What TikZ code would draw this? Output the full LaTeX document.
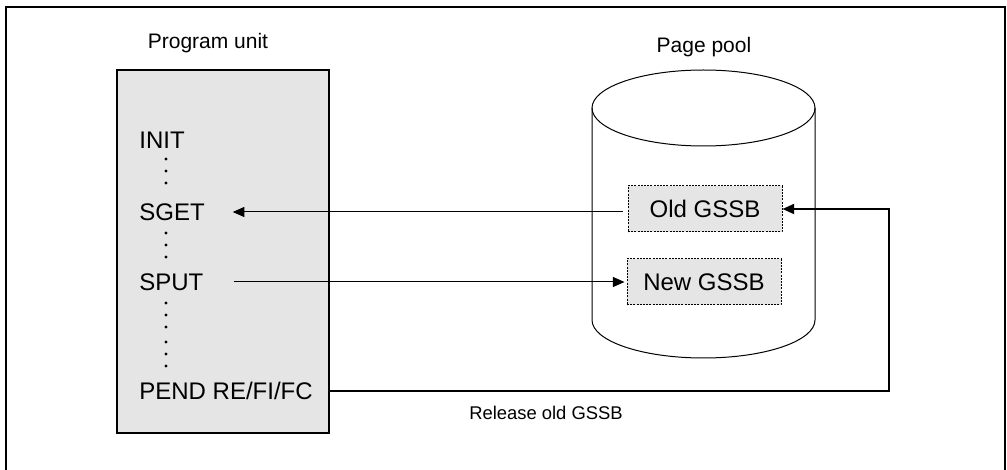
\documentclass[tikz,border=0pt]{standalone}
\usepackage{fontspec}
\setmainfont{Liberation Sans}
\usetikzlibrary{arrows.meta}
\definecolor{boxgray}{RGB}{229,229,229}

\begin{document}
\begin{tikzpicture}[x=0.5pt,y=-0.5pt,
    every node/.style={font=\fontsize{12}{14}\selectfont},
    stmt/.style={anchor=west, inner sep=0pt, text height=8.6pt, text depth=0pt},
    gssb/.style={draw, fill=boxgray, line width=0.5pt, dash pattern=on 1pt off 0.6pt,
        minimum width=77pt, minimum height=23pt, inner sep=0pt},
    tip/.style={-{Triangle[length=5.8pt,width=5pt]}},
    caption/.style={font=\fontsize{10.5}{12}\selectfont}]
    \useasboundingbox (0,0) rectangle (1007,470);
    \draw[line width=0.8pt] (6,470) -- (6,7) -- (1005,7) -- (1005,470);

    \node[caption] (unitlabel) at (208,43.5) {Program unit};
    \node[draw, fill=boxgray, line width=0.6pt, minimum width=106pt, minimum height=181.5pt] (unit) at (223,251.5) {};
    \node[stmt] (init) at (139,139.5) {INIT};
    \node[stmt] (sget) at (139,212) {SGET};
    \node[stmt] (sput) at (139,282) {SPUT};
    \node[stmt] (pend) at (139,391) {PEND RE/FI/FC};
    \foreach \y in {159,171,183, 233,245,257, 303,315,327,342,354,366}
        \fill (166,\y) circle (1.6);

    \node[caption] (poollabel) at (704,47) {Page pool};
    \draw[line width=0.5pt] (703.5,108) ellipse [x radius=111.5, y radius=38];
    \draw[line width=0.5pt] (592,108) -- (592,320) arc (180:0:111.5 and 38) -- (815,108);
    \node[gssb] (old) at (705,209) {Old GSSB};
    \node[gssb] (new) at (704,282) {New GSSB};

    \coordinate (turn) at (889,209);
    \draw[tip, line width=0.5pt, shorten <=2.5pt, shorten >=13.8pt] (sget.east -| old.west) -- (sget.east);
    \draw[tip, line width=0.5pt, shorten <=15pt, shorten >=1pt] (sput.east) -- (sput.east -| new.west);
    \draw[tip, line width=0.9pt] (pend.east -| unit.east) -| (turn) -- (old.east);
    \node[font=\fontsize{9.2}{11}\selectfont] (release) at (546,412.5) {Release old GSSB};
\end{tikzpicture}
\end{document}
